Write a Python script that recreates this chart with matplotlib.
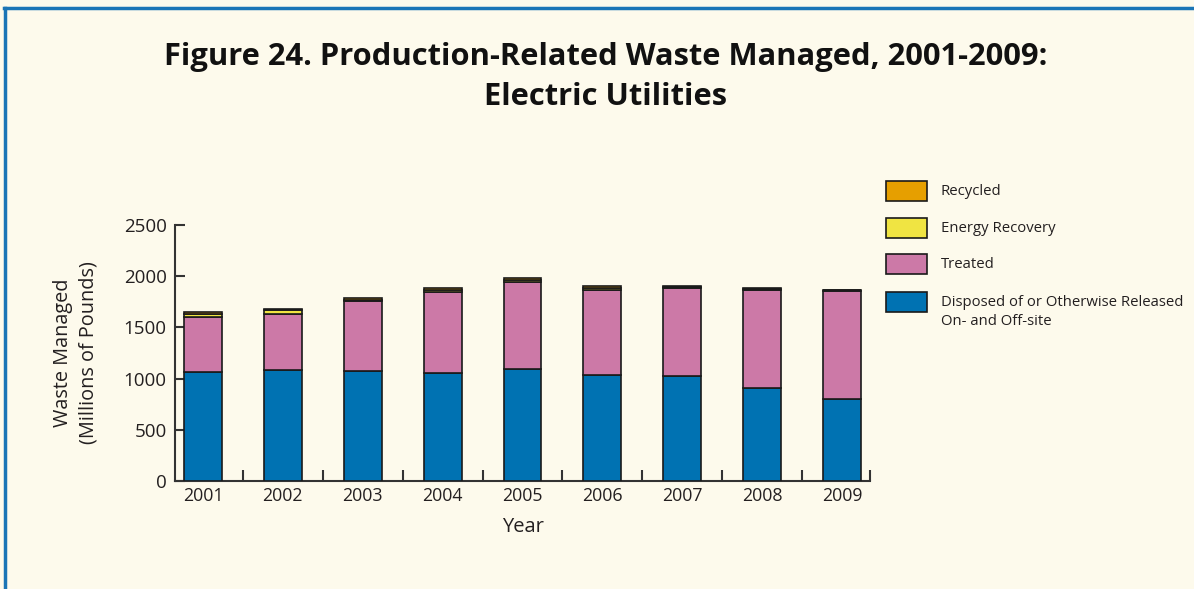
import matplotlib
matplotlib.use("Agg")
import matplotlib.pyplot as plt
from matplotlib.patches import Rectangle
import numpy as np

years = ["2001", "2002", "2003", "2004", "2005", "2006", "2007", "2008", "2009"]
disposed = [1063, 1083, 1070, 1050, 1092, 1033, 1021, 913, 802]
treated = [537, 544, 684, 792, 848, 828, 866, 954, 1056]
energy = [32, 42, 15, 20, 20, 20, 8, 5, 4]
recycled = [15, 14, 14, 19, 19, 23, 12, 9, 5]

series_labels = ["Recycled", "Energy Recovery", "Treated",
                 "Disposed of or Otherwise Released\nOn- and Off-site"]
colors = {"disposed": "#0072B2", "treated": "#CC79A7",
          "energy": "#F0E442", "recycled": "#E69F00"}

BG = "#FDFAEC"
TXT = "#231F20"
plt.rcParams['font.family'] = ['Open Sans', 'DejaVu Sans']

fig = plt.figure(figsize=(11.94, 5.89), dpi=100, facecolor=BG)
ax = fig.add_axes([175/1194, 1-481/589, (870-175)/1194, (481-225)/589])
ax.set_facecolor(BG)

x = np.arange(len(years))
w = 0.475
ekw = dict(edgecolor="#1a1a1a", linewidth=1.2, width=w)
b = np.zeros(len(years))
for vals, key in [(disposed, "disposed"), (treated, "treated"),
                  (energy, "energy"), (recycled, "recycled")]:
    ax.bar(x, vals, bottom=b, color=colors[key], **ekw, zorder=3)
    b = b + np.array(vals)

ax.set_xlim(-0.35, 8.35)
ax.set_ylim(0, 2500)
for s in ["top", "right"]:
    ax.spines[s].set_visible(False)
for s in ["left", "bottom"]:
    ax.spines[s].set_color("#333333")
    ax.spines[s].set_linewidth(1.5)

ax.set_yticks([0, 500, 1000, 1500, 2000, 2500])
ax.tick_params(axis="y", direction="in", length=7, width=1.5, color="#333333",
               labelsize=13.5, labelcolor=TXT, pad=6)
ax.set_xticks(x)
ax.set_xticklabels(years)
ax.tick_params(axis="x", length=0, labelsize=12.8, labelcolor=TXT, pad=4)
ax.set_xticks(list(np.arange(0.5, 8, 1.0)) + [8.35], minor=True)
ax.tick_params(axis="x", which="minor", direction="in", length=8, width=1.5,
               color="#333333")

ax.set_xlabel("Year", fontsize=14.5, color=TXT, labelpad=9)
ax.set_ylabel("Waste Managed\n(Millions of Pounds)", fontsize=14.3, color=TXT,
              labelpad=18, linespacing=1.35)

fig.text(0.507, 1-57/589, "Figure 24. Production-Related Waste Managed, 2001-2009:",
         ha="center", va="center", fontsize=22.2, fontweight="bold", color="#111111")
fig.text(0.507, 1-97/589, "Electric Utilities",
         ha="center", va="center", fontsize=22.2, fontweight="bold", color="#111111")

# legend
leg_items = [("recycled", 191), ("energy", 228), ("treated", 264), ("disposed", 302)]
for (key, yc), lab in zip(leg_items, series_labels):
    fig.patches.append(Rectangle((886/1194, 1-(yc+10)/589), 41/1194, 20/589,
                                 transform=fig.transFigure, facecolor=colors[key],
                                 edgecolor="#1a1a1a", linewidth=1.2))
    ty = yc if key != "disposed" else yc + 10
    fig.text(941/1194, 1-ty/589, lab, ha="left", va="center", fontsize=10.7,
             color=TXT, linespacing=1.35)

# frame lines
fig.add_artist(plt.Line2D([5/1194, 5/1194], [0, 1-8/589], transform=fig.transFigure,
                          color="#1b75b6", linewidth=2.5))
fig.add_artist(plt.Line2D([4/1194, 1], [1-8/589, 1-8/589], transform=fig.transFigure,
                          color="#1b75b6", linewidth=2.5))

fig.savefig("out.png", dpi=100, facecolor=BG)
